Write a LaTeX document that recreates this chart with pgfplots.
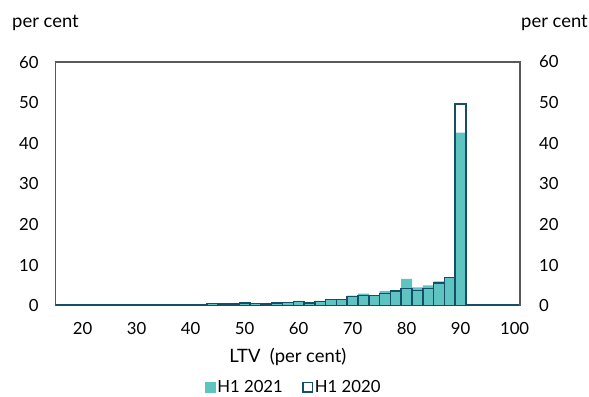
\documentclass[border=0pt]{standalone}
\usepackage{fontspec}
\setmainfont{Lato}
\usepackage{pgfplots}
\pgfplotsset{compat=1.18}
\definecolor{c2021}{RGB}{95,196,193}
\definecolor{c2020}{RGB}{20,78,105}
\definecolor{framegray}{RGB}{89,89,89}

\pgfplotstableread{
x   h2021  h2020
16  0.15   0.15
18  0.15   0.15
20  0.15   0.15
22  0.15   0.15
24  0.15   0.15
26  0.15   0.15
28  0.15   0.15
30  0.15   0.15
32  0.15   0.15
34  0.15   0.15
36  0.15   0.15
38  0.15   0.15
40  0.15   0.15
42  0.15   0.15
44  0.50   0.50
46  0.45   0.45
48  0.45   0.45
50  0.90   0.65
52  0.55   0.55
54  0.45   0.45
56  0.90   0.65
58  0.90   0.80
60  1.20   1.05
62  0.90   0.65
64  1.20   1.05
66  1.55   1.50
68  1.55   1.55
70  2.50   2.30
72  3.00   2.50
74  2.60   2.50
76  3.60   3.00
78  3.70   3.60
80  6.60   4.25
82  4.50   3.80
84  5.00   4.25
86  6.00   5.60
88  7.00   6.90
90  42.6   49.6
92  0.15   0.15
94  0.15   0.15
96  0.15   0.15
98  0.15   0.15
100 0.15   0.15
}\ltvdata

\begin{document}
\begin{tikzpicture}[x=1bp,y=1bp,font=\fontsize{16.8}{19}\selectfont]
\useasboundingbox (-55.7,-90.3) rectangle (533.3,305.7);
\begin{axis}[
    at={(0,0)}, anchor=south west,
    width=464.3bp, height=243.7bp, scale only axis,
    xmin=15, xmax=101, ymin=0, ymax=60,
    xtick={20,30,...,100}, ytick={0,10,...,60},
    major tick length=0pt,
    axis line style={framegray, line width=1.2bp},
    /pgf/number format/assume math mode=true,
    tick label style={inner sep=0pt},
    x tick label style={anchor=north, yshift=-16bp},
    y tick label style={anchor=east, xshift=-17bp},
    xlabel={LTV\ \ (per cent)},
    xlabel style={at={(axis description cs:0.5,0)}, anchor=base, yshift=-57bp, inner sep=0pt,
        font=\fontsize{18.5}{21}\selectfont},
    legend style={at={(axis description cs:0.512,0)}, anchor=center, yshift=-81.3bp,
        draw=none, fill=none, legend columns=2,
        nodes={inner sep=1.5bp},
        /tikz/every even column/.append style={column sep=18bp}},
    legend cell align=left,
]
\addplot[ybar, bar width=2, bar shift=0pt, fill=c2021, draw=none,
    legend image code/.code={\fill[c2021] (0bp,-5.5bp) rectangle (11bp,5.5bp);}]
    table[x=x, y=h2021] {\ltvdata};
\addlegendentry{H1 2021}
\addplot[ybar, bar width=2, bar shift=0pt, fill=none, draw=c2020, line width=1.5bp,
    legend image code/.code={\draw[c2020, line width=1.2bp] (0.6bp,-4.9bp) rectangle (10.4bp,4.9bp);}]
    table[x=x, y=h2020] {\ltvdata};
\addlegendentry{H1 2020}
\end{axis}
\begin{axis}[
    at={(0,0)}, anchor=south west,
    width=464.3bp, height=243.7bp, scale only axis,
    xmin=15, xmax=101, ymin=0, ymax=60,
    ytick={0,10,...,60},
    axis x line=none, axis y line*=right,
    axis line style={framegray, line width=1.2bp},
    major tick length=0pt,
    /pgf/number format/assume math mode=true,
    y tick label style={inner sep=0pt, anchor=west, xshift=19bp},
]
\addplot[draw=none] coordinates {(15,0)};
\end{axis}
\node[anchor=base west, inner sep=0pt, font=\fontsize{18.5}{21}\selectfont] at (-43.7,278.7) {per cent};
\node[anchor=base east, inner sep=0pt, font=\fontsize{18.5}{21}\selectfont] at (532.3,278.7) {per cent};
\end{tikzpicture}
\end{document}
